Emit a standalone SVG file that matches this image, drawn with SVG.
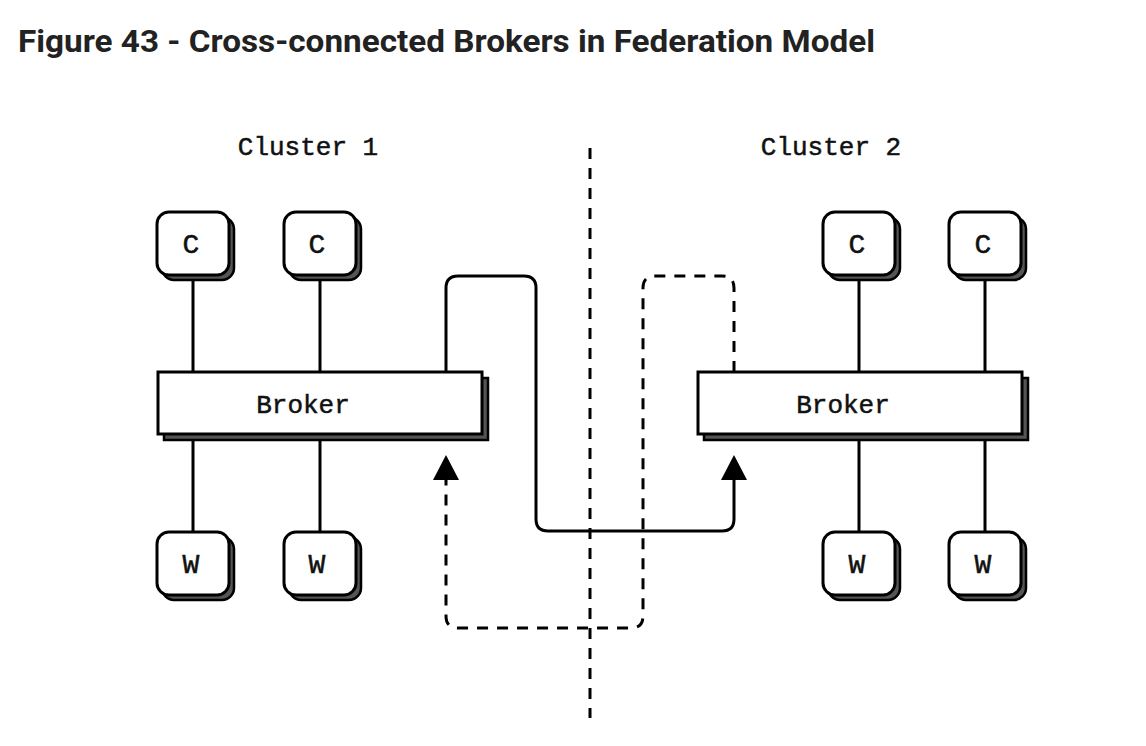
<svg xmlns="http://www.w3.org/2000/svg" width="1146" height="746" viewBox="0 0 1146 746">
<style>
.title{font-family:Roboto,"Liberation Sans",sans-serif;font-weight:bold;font-size:31px;fill:#222}
.lbl{font-family:"Liberation Mono","DejaVu Sans Mono",monospace;font-size:26px;fill:#111;stroke:#111;stroke-width:0.5;text-anchor:middle}
.big{font-size:28px}
.sh{fill:#555;stroke:#000;stroke-width:2.5}
.bx{fill:#fff;stroke:#000;stroke-width:3}
.ln{fill:none;stroke:#000;stroke-width:3}
.dl{fill:none;stroke:#000;stroke-width:3;stroke-dasharray:11 9}
</style>
<defs>
<g id="small">
<rect class="sh" x="5" y="5" width="72" height="63" rx="12"/>
<rect class="bx" x="0" y="0" width="72" height="63" rx="12"/>
</g>
<g id="broker">
<rect class="sh" x="6" y="6" width="324" height="62"/>
<rect class="bx" x="0" y="0" width="324" height="62"/>
</g>
</defs>
<rect width="1146" height="746" fill="#fff"/>
<text class="title" x="18" y="52" textLength="857" lengthAdjust="spacingAndGlyphs">Figure 43 - Cross-connected Brokers in Federation Model</text>
<text class="lbl" x="308" y="155">Cluster 1</text>
<text class="lbl" x="831" y="155">Cluster 2</text>
<g id="connectors">
<line class="dl" x1="590" y1="148" x2="590" y2="718"/>
<line class="ln" x1="193" y1="275" x2="193" y2="372"/>
<line class="ln" x1="320" y1="275" x2="320" y2="372"/>
<line class="ln" x1="859" y1="275" x2="859" y2="372"/>
<line class="ln" x1="985" y1="275" x2="985" y2="372"/>
<line class="ln" x1="193" y1="434" x2="193" y2="532"/>
<line class="ln" x1="320" y1="434" x2="320" y2="532"/>
<line class="ln" x1="859" y1="434" x2="859" y2="532"/>
<line class="ln" x1="985" y1="434" x2="985" y2="532"/>
<path class="ln" d="M446,372 V288 Q446,276 458,276 H524 Q536,276 536,288 V519 Q536,531 548,531 H722 Q734,531 734,519 V478"/>
<polygon points="734,455 721,480 747,480" fill="#000"/>
<path class="dl" d="M734,372 V288 Q734,276 722,276 H655 Q643,276 643,288 V616 Q643,628 631,628 H458 Q446,628 446,616 V478"/>
<polygon points="446,455 433,480 459,480" fill="#000"/>
</g>
<g id="c1"><use href="#small" x="157" y="212"/><text class="lbl big" x="191" y="253">C</text></g>
<g id="c2"><use href="#small" x="284" y="212"/><text class="lbl big" x="317" y="253">C</text></g>
<g id="c3"><use href="#small" x="823" y="212"/><text class="lbl big" x="857" y="253">C</text></g>
<g id="c4"><use href="#small" x="949" y="212"/><text class="lbl big" x="983" y="253">C</text></g>
<g id="broker1"><use href="#broker" x="158" y="372"/><text class="lbl" x="303" y="413">Broker</text></g>
<g id="broker2"><use href="#broker" x="698" y="372"/><text class="lbl" x="843" y="413">Broker</text></g>
<g id="w1"><use href="#small" x="157" y="532"/><text class="lbl big" x="191" y="573">W</text></g>
<g id="w2"><use href="#small" x="284" y="532"/><text class="lbl big" x="317" y="573">W</text></g>
<g id="w3"><use href="#small" x="823" y="532"/><text class="lbl big" x="857" y="573">W</text></g>
<g id="w4"><use href="#small" x="949" y="532"/><text class="lbl big" x="983" y="573">W</text></g>
</svg>
